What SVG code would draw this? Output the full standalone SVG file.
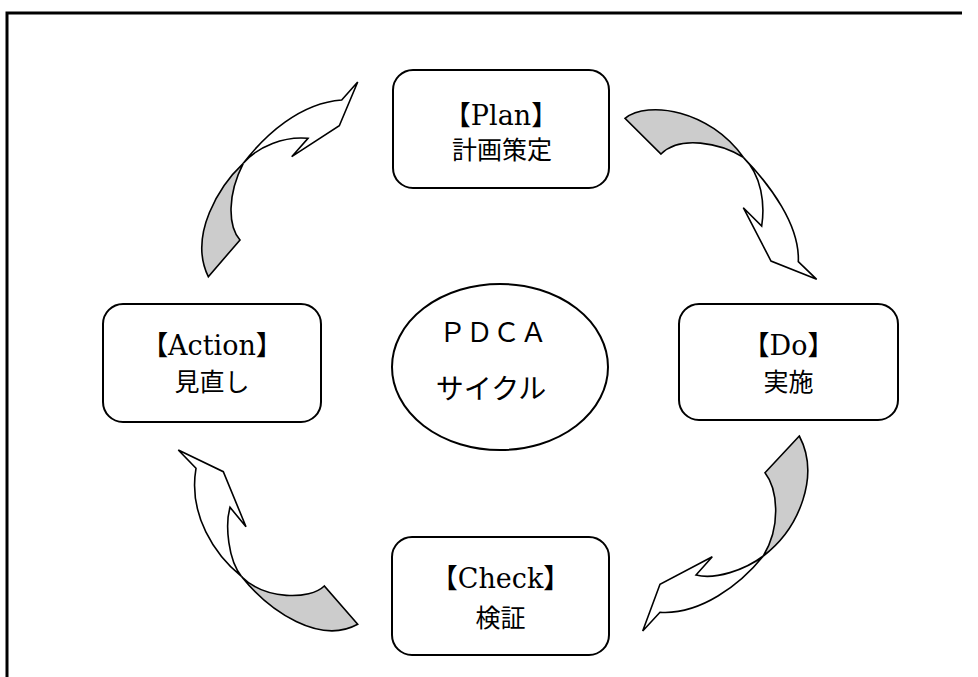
<svg xmlns="http://www.w3.org/2000/svg" width="978" height="677" viewBox="0 0 978 677">
<style>
.frame{fill:none;stroke:#000;stroke-width:3}
.box{fill:#fff;stroke:#000;stroke-width:2}
.aw{fill:#fff;stroke:#000;stroke-width:1.6;stroke-linejoin:miter}
.ag{fill:#cccccc;stroke:#000;stroke-width:1.6;stroke-linejoin:miter}
.t1{font-family:"DejaVu Serif","Noto Sans CJK JP",serif;font-size:27px;text-anchor:middle;fill:#000}
.t2{font-family:"Noto Sans CJK JP",sans-serif;font-size:25px;text-anchor:middle;fill:#000}
</style>
<rect x="0" y="0" width="978" height="677" fill="#fff"/>
<path class="frame" d="M7,677 L7,13 L962,13"/>
<g id="connectors">
  <g id="arrow-action-plan">
    <path class="ag" d="M243.3,163.3 C220,185 188,235 208.3,276.7 L240,240 C228,226 227,195 243.3,163.3 Z"/>
    <path class="aw" d="M243.3,163.3 C265,135 300,103 341.7,100 L357.7,82 L339.3,125.7 L291.7,156.7 L308,138.3 C285,136 258,146 243.3,163.3 Z"/>
  </g>
  <g id="arrow-plan-do">
    <path class="ag" d="M625,118.3 C648,100 710,110 743.3,157.3 C720,143 680,135 661,154 Z"/>
    <path class="aw" d="M743.3,157.3 C770,185 800,225 798.3,261.7 L816.7,279.3 L771,261 L743.3,207.7 L761.7,226 C765,205 762,175 743.3,157.3 Z"/>
  </g>
  <g id="arrow-do-check">
    <path class="ag" d="M799.3,436 L765,472.7 C777,488 782,525 763.3,556 C800,528 820,475 799.3,436 Z"/>
    <path class="aw" d="M763.3,556 C740,585 700,615 660,612.3 L642.7,631 L660,584.3 L712.3,556.7 L696,575 C715,580 745,570 763.3,556 Z"/>
  </g>
  <g id="arrow-check-action">
    <path class="ag" d="M241.7,576.7 C270,612 320,645 357.7,624.3 L324.3,586 C310,600 265,600 241.7,576.7 Z"/>
    <path class="aw" d="M241.7,576.7 C215,555 188,515 196,468.3 L178.3,450 L223.3,471.7 L246,526.7 L230,507.3 C225,525 228,560 241.7,576.7 Z"/>
  </g>
</g>
<g id="plan">
  <rect class="box" x="393" y="70" width="216" height="118" rx="20"/>
  <text class="t1" x="501" y="125">【Plan】</text>
  <text class="t2" x="502" y="159">計画策定</text>
</g>
<g id="do">
  <rect class="box" x="679" y="304" width="219" height="116" rx="20"/>
  <text class="t1" x="788.5" y="355">【Do】</text>
  <text class="t2" x="788.5" y="391">実施</text>
</g>
<g id="check">
  <rect class="box" x="392" y="537" width="217" height="118" rx="20"/>
  <text class="t1" x="500.5" y="588">【Check】</text>
  <text class="t2" x="500.5" y="627">検証</text>
</g>
<g id="action">
  <rect class="box" x="103" y="304" width="218" height="118" rx="20"/>
  <text class="t1" x="212" y="355">【Action】</text>
  <text class="t2" x="212" y="391">見直し</text>
</g>
<g id="center">
  <ellipse class="box" cx="500" cy="367" rx="108" ry="83"/>
  <text class="t2" x="493" y="342" style="font-size:27px">ＰＤＣＡ</text>
  <text class="t2" x="491" y="399" style="font-size:28px">サイクル</text>
</g>
</svg>
